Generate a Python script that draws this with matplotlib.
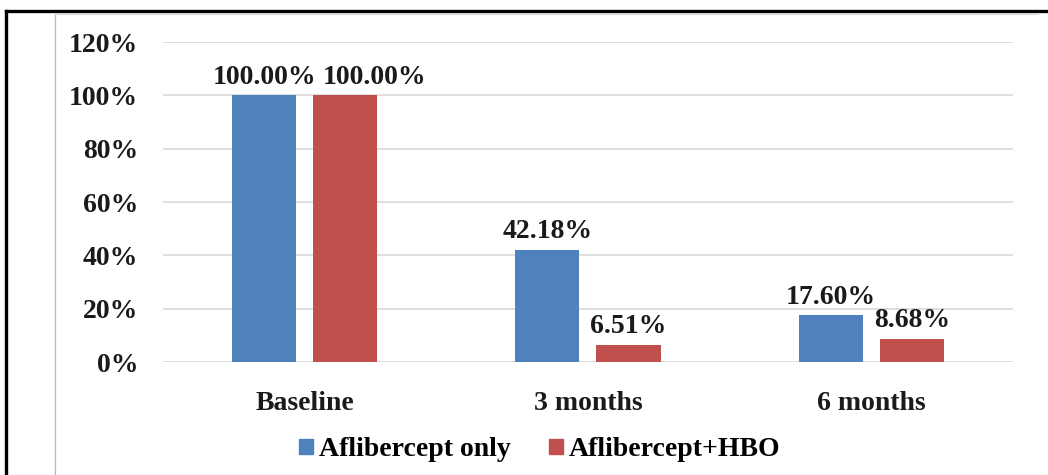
import numpy as np
import matplotlib.pyplot as plt
from matplotlib.lines import Line2D
from matplotlib.patches import Patch

# Доля пациентов по срокам наблюдения
periods = ['Baseline', '3 months', '6 months']
aflibercept_only = [100.00, 42.18, 17.60]
aflibercept_hbo = [100.00, 6.51, 8.68]
series_names = ['Aflibercept only', 'Aflibercept+HBO']
y_ticks = [0, 20, 40, 60, 80, 100, 120]

blue = '#4F81BD'
red = '#C0504D'

plt.rcParams['font.family'] = 'Liberation Serif'
plt.rcParams['font.weight'] = 'bold'

fig = plt.figure(figsize=(10.48, 4.75), dpi=100)
W, H = 1048, 475

# Рамка вокруг диаграммы
fig.add_artist(Line2D([6 / W, 6 / W], [0, 1 - 11 / H], color='black', lw=2.4))
fig.add_artist(Line2D([6 / W, 1], [1 - 11 / H, 1 - 11 / H], color='black', lw=2.4))
fig.add_artist(Line2D([55 / W, 55 / W], [0, 1 - 13 / H], color='#BBBBBB', lw=0.9))
fig.add_artist(Line2D([55 / W, 1038 / W], [1 - 14 / H, 1 - 14 / H], color='#DDDDDD', lw=0.9))

ax = fig.add_axes([163 / W, (H - 362) / H, 850 / W, 320 / H])

x = np.arange(len(periods))
width = 0.226
shift = 0.143
bars1 = ax.bar(x - shift, aflibercept_only, width, color=blue, zorder=3)
bars2 = ax.bar(x + shift, aflibercept_hbo, width, color=red, zorder=3)

# Подписи значений над столбцами (первую красную сдвигаем вправо, чтобы не налезала)
label_dx = [[0, 0, 0], [21, 0, 0]]
for k, (bars, vals) in enumerate([(bars1, aflibercept_only), (bars2, aflibercept_hbo)]):
    for i, (b, v) in enumerate(zip(bars, vals)):
        ax.annotate(f'{v:.2f}%', (b.get_x() + b.get_width() / 2, v),
                    xytext=(label_dx[k][i], 4), textcoords='offset points',
                    ha='center', va='bottom', fontsize=20, fontweight='bold',
                    color='#1a1a1a')

ax.set_xlim(-0.5, 2.5)
ax.set_ylim(0, 120)
ax.set_yticks(y_ticks)
ax.set_yticklabels([f'{t}%' for t in y_ticks])
ax.set_xticks(x)
ax.set_xticklabels(periods)
ax.tick_params(axis='both', length=0, labelsize=20, colors='#1a1a1a')
ax.tick_params(axis='y', pad=18)
ax.tick_params(axis='x', pad=21)
ax.grid(axis='y', color='#D9D9D9', lw=1.2, zorder=0)
for s in ax.spines.values():
    s.set_visible(False)

handles = [Patch(color=blue), Patch(color=red)]
fig.legend(handles, series_names, loc='center', bbox_to_anchor=(0.515, 0.053),
           ncol=2, frameon=False, fontsize=20, handlelength=0.5,
           handleheight=0.5, handletextpad=0.2, columnspacing=1.4)

fig.savefig('out.png', dpi=100)
